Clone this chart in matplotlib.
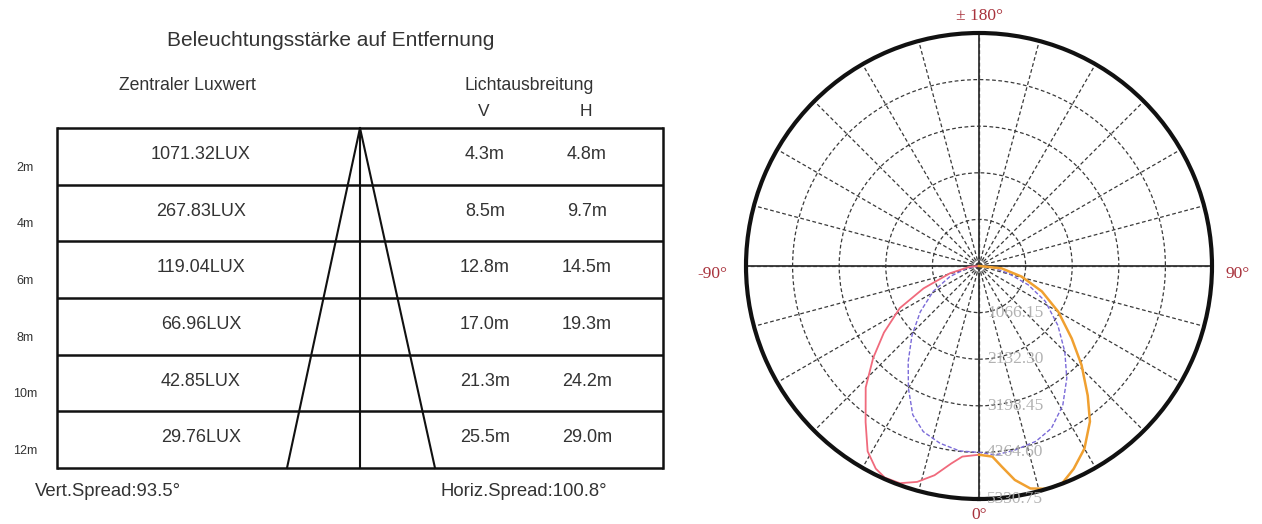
import numpy as np
import matplotlib.pyplot as plt

plt.rcParams['font.family'] = ['Liberation Sans', 'DejaVu Sans']

# table data
distances = ['2m', '4m', '6m', '8m', '10m', '12m']
lux = [1071.32, 267.83, 119.04, 66.96, 42.85, 29.76]
v_spread = [4.3, 8.5, 12.8, 17.0, 21.3, 25.5]
h_spread = [4.8, 9.7, 14.5, 19.3, 24.2, 29.0]
vert_angle = 93.5
horiz_angle = 100.8

# polar curve data (deg, cd)
c0_ang = [0, -5, -8, -12, -16, -20, -24, -27, -31, -36, -43, -49, -55, -62, -68, -76, -85, -90]
c0_val = [4318, 4377, 4563, 4894, 5139, 5288, 5299, 5203, 4947, 4414, 3801, 3209, 2655, 2052, 1370, 682, 213, 0]
c180_ang = [0, 4, 6.5, 9.5, 13, 17, 21, 25, 30, 35.5, 40, 46, 52, 60, 68, 76, 84, 90]
c180_val = [4318, 4371, 4622, 4963, 5224, 5330, 5320, 5123, 4824, 4371, 3870, 3262, 2692, 2095, 1551, 1008, 522, 0]
c90_ang = [-90, -79, -70, -61, -52, -44, -36.5, -30, -24, -18.6, -12.4, -6, 0, 5, 11, 18, 24, 31, 38, 45, 53, 62, 69, 76, 86, 90]
c90_val = [0, 288, 709, 1199, 1706, 2207, 2724, 3230, 3726, 3998, 4153, 4254, 4265, 4339, 4291, 4217, 4067, 3721, 3262, 2777, 2260, 1716, 1210, 693, 267, 0]
rings = [1066.15, 2132.30, 3198.45, 4264.60, 5330.75]

W, H = 1262, 524
fig = plt.figure(figsize=(W / 100, H / 100), dpi=100)

# ---- left: table drawn in pixel coords ----
ax = fig.add_axes([0, 0, 1, 1])
ax.set_xlim(0, W)
ax.set_ylim(H, 0)
ax.axis('off')

txt = '#333333'
left, right, top, bottom = 57, 663, 128, 468
row_h = (bottom - top) / len(distances)
mid = 360

ax.text(331, 40, 'Beleuchtungsstärke auf Entfernung', ha='center', va='center', fontsize=15, color=txt)
ax.text(187, 86, 'Zentraler Luxwert', ha='center', va='center', fontsize=12.7, color=txt)
ax.text(529, 86, 'Lichtausbreitung', ha='center', va='center', fontsize=12.7, color=txt)
ax.text(484, 112, 'V', ha='center', va='center', fontsize=12.5, color=txt)
ax.text(586, 112, 'H', ha='center', va='center', fontsize=12.5, color=txt)

for i in range(len(distances) + 1):
    y = top + i * row_h
    ax.plot([left, right], [y, y], color='#111111', lw=1.8, solid_capstyle='butt')
ax.plot([left, left], [top, bottom], color='#111111', lw=1.8)
ax.plot([right, right], [top, bottom], color='#111111', lw=1.8)
ax.plot([mid, mid], [top, bottom], color='#111111', lw=1.5)
ax.plot([287, mid, 435], [bottom, top, bottom], color='#111111', lw=1.5)

for i, d in enumerate(distances):
    yc = top + (i + 0.5) * row_h - 2
    ax.text(201, yc, f'{lux[i]:.2f}LUX', ha='center', va='center', fontsize=13, color=txt)
    ax.text(485, yc, f'{v_spread[i]:.1f}m', ha='center', va='center', fontsize=13, color=txt)
    ax.text(587, yc, f'{h_spread[i]:.1f}m', ha='center', va='center', fontsize=13, color=txt)
    ax.text(25, top + (i + 1) * row_h - 17, d, ha='center', va='center', fontsize=9, color=txt)

ax.text(35, 491, f'Vert.Spread:{vert_angle}°', ha='left', va='center', fontsize=13.3, color=txt)
ax.text(440, 491, f'Horiz.Spread:{horiz_angle}°', ha='left', va='center', fontsize=13.3, color=txt)

# ---- right: polar intensity diagram ----
cx, cy, R = 979, 266, 233
pax = fig.add_axes([(cx - R) / W, (H - cy - R) / H, 2 * R / W, 2 * R / H], projection='polar')
pax.set_theta_zero_location('S')
pax.set_theta_direction(1)
rmax = rings[-1]
pax.set_ylim(0, rmax)
pax.set_rticks(rings[:-1])
pax.set_yticklabels([])
pax.set_thetagrids(np.arange(0, 360, 15), labels=[''] * 24)
pax.grid(True, color='#3a3a3a', ls=(0, (3, 2)), lw=0.9)
pax.spines['polar'].set_linewidth(3)
pax.spines['polar'].set_color('#111111')

for a in [0, 90, 180, 270]:
    pax.plot([np.radians(a)] * 2, [0, rmax], color='#333333', lw=1.3)
full = np.linspace(0, 2 * np.pi, 200)
pax.plot(full, [140] * 200, color='#888888', lw=0.8)

pax.plot(np.radians(c90_ang), c90_val, color='#7a6ad8', lw=1.0, ls=(0, (3, 1.5)))
pax.plot(np.radians(c0_ang), c0_val, color='#f06a7c', lw=1.3)
pax.plot(np.radians(c180_ang), c180_val, color='#f0a030', lw=1.8)

# labels on top of the polar axes
serif = ['Liberation Serif', 'DejaVu Serif']
for r in rings:
    y = cy + r / rmax * R
    fig.text((cx + 8) / W, 1 - y / H, f'{r:.2f}', ha='left', va='center',
             fontsize=12.5, family=serif, color='#aaaaaa', alpha=0.9)

red = '#a8323c'
fig.text(cx / W, 1 - 16 / H, '± 180°', ha='center', va='center', fontsize=12.5, family=serif, color=red)
fig.text(cx / W, 1 - 515 / H, '0°', ha='center', va='center', fontsize=12.5, family=serif, color=red)
fig.text(712 / W, 1 - 274 / H, '-90°', ha='center', va='center', fontsize=12.5, family=serif, color=red)
fig.text(1238 / W, 1 - 274 / H, '90°', ha='center', va='center', fontsize=12.5, family=serif, color=red)

fig.savefig('out.png', dpi=100)
